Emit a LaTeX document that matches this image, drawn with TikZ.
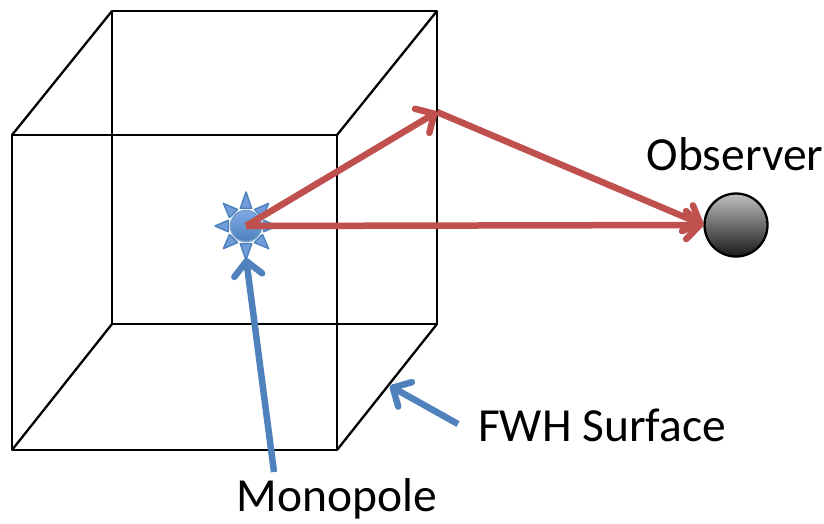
\documentclass[tikz,border=0pt]{standalone}
\usepackage{fontspec}
\setmainfont{Carlito}
\usetikzlibrary{arrows.meta}
\definecolor{rayred}{HTML}{C0504D}
\definecolor{tagblue}{HTML}{4F81BD}
\definecolor{starblue}{HTML}{7FA9E6}
\tikzset{
  edge/.style={black, line width=2.3pt, line join=round},
  rayline/.style={rayred, line width=6.5pt, -{Straight Barb[length=14pt, width=28pt, line width=6.5pt, round]}},
  tagline/.style={tagblue, line width=6.5pt, -{Straight Barb[length=14pt, width=28pt, line width=6.5pt, round]}},
  lbl/.style={font=\fontsize{47.5}{54}\selectfont, inner sep=0pt},
}
\begin{document}
\begin{tikzpicture}[x=1pt, y=-1pt]
  \useasboundingbox (0,0) rectangle (824,523);
  % box corners
  \coordinate (fa) at (12,135);
  \coordinate (fb) at (337,135);
  \coordinate (fc) at (337,450);
  \coordinate (fd) at (12,450);
  \coordinate (ba) at (112,11);
  \coordinate (bb) at (437,11);
  \coordinate (bc) at (437,324);
  \coordinate (bd) at (112,324);
  \draw[edge] (fa) -- (fb) -- (fc) -- (fd) -- cycle;
  \draw[edge] (ba) -- (bb) -- (bc) -- (bd) -- cycle;
  \draw[edge] (fa) -- (ba);
  \draw[edge] (fb) -- (bb);
  \draw[edge] (fc) -- (bc);
  \draw[edge] (fd) -- (bd);
  % monopole
  \foreach \ang/\tip in {0/31, 45/32, 90/34, 135/32, 180/31, 225/32, 270/34, 315/32} {
    \draw[tagblue, line width=1.5pt, fill=starblue!70!tagblue, line join=round, shift={(246,226)}]
      (\ang:\tip) -- (\ang+18:18.5) -- (\ang-18:18.5) -- cycle;
  }
  \node[circle, draw=tagblue!80!white, line width=1.5pt, minimum size=31pt, inner sep=0pt, top color=starblue, bottom color=tagblue] (source) at (246,226) {};
  % observer
  \node[circle, draw=black, line width=2.3pt, minimum size=63pt, inner sep=0pt, top color=black!25, bottom color=black!90] (observer) at (736,225) {};
  % labels
  \node[lbl] (obslabel) at (735,154) {Observer};
  \node[lbl] (fwhlabel) at (602,425) {FWH Surface};
  \node[lbl] (monolabel) at (337,499) {Monopole};
  % rays
  \coordinate (bounce) at (437,112);
  \coordinate (fwhfoot) at (458,424);
  \coordinate (fwhtip) at (390,386);
  \coordinate (monofoot) at (274,472);
  \coordinate (monotip) at (246,258);
  \draw[rayline] (source.center) -- (bounce);
  \draw[rayline] (bounce) -- (observer.west);
  \draw[rayline] (source.center) -- (observer.west);
  \draw[tagline] (monofoot) -- (monotip);
  \draw[tagline] (fwhfoot) -- (fwhtip);
\end{tikzpicture}
\end{document}
